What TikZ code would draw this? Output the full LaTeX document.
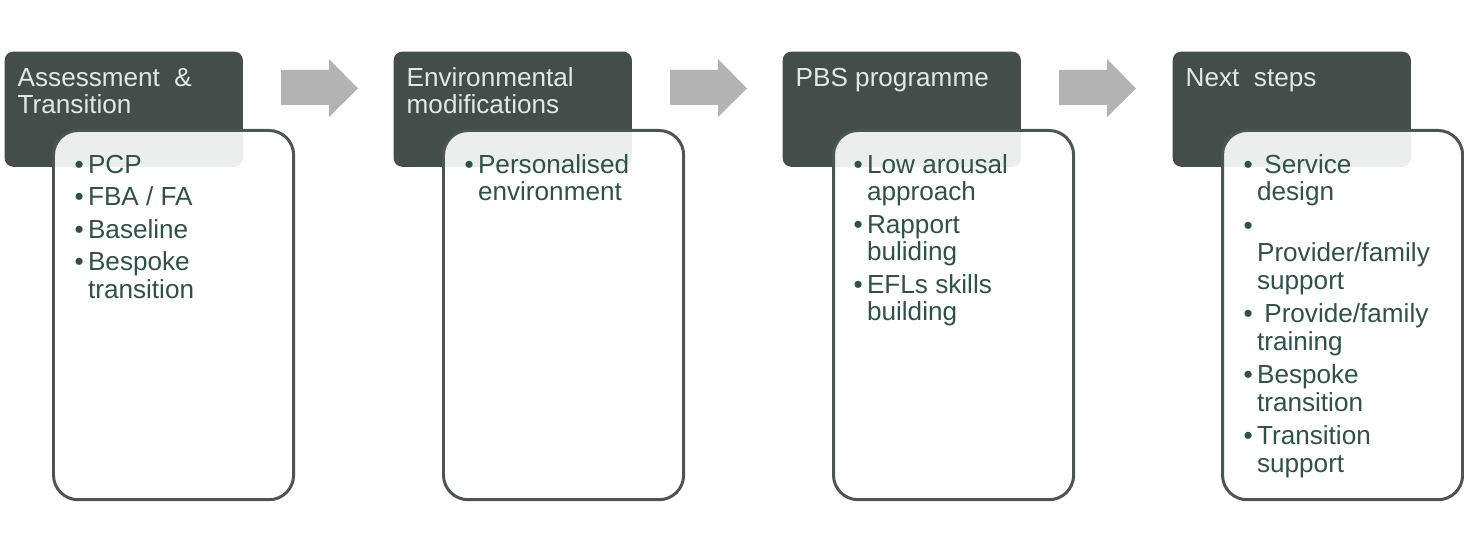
\documentclass[tikz,border=0pt]{standalone}
\usepackage{fontspec}
\setmainfont{Liberation Sans}
\usepackage{array}
\begin{document}
\definecolor{headfill}{HTML}{434E4B}
\definecolor{headtext}{HTML}{E2E9E4}
\definecolor{bodytext}{HTML}{2D5248}
\definecolor{boxline}{HTML}{4B5653}
\definecolor{arrowgray}{HTML}{B3B3B3}
% one unit = 0.01cm, y grows downwards
\begin{tikzpicture}[x=0.01cm,y=-0.01cm,
  header/.style={fill=headfill,draw=none,rounded corners=2.4pt,
    minimum width=2.38cm,minimum height=1.15cm,anchor=north west,inner sep=0pt},
  content/.style={fill=white,fill opacity=0.9,draw=boxline,line width=0.85pt,
    rounded corners=7pt,minimum width=2.40cm,minimum height=3.69cm,
    anchor=north west,inner sep=0pt},
  headlabel/.style={anchor=north west,inner sep=0pt,text=headtext,
    font=\fontsize{7.43}{7.8}\selectfont},
  bullets/.style={anchor=north west,inner sep=0pt,text=bodytext,
    font=\fontsize{7.43}{7.8}\selectfont},
  flowarrow/.style={fill=arrowgray,draw=none}]
\useasboundingbox (0,0) rectangle (1464,549);
\newcommand\gap{\\[1.45pt]}
\newcommand\widegap{\\[1.75pt]}
\newcommand\bul{•}

% stage headers
\node[header] (h1) at (4,51) {};
\node[header] (h2) at (393,51) {};
\node[header] (h3) at (782,51) {};
\node[header] (h4) at (1172,51) {};

\node[headlabel] (t1) at (17,66.4) {\begin{tabular}{@{}l@{}}Assessment\ \ \&\\Transition\end{tabular}};
\node[headlabel] (t2) at (406,66.4) {\begin{tabular}{@{}l@{}}Environmental\\modifications\end{tabular}};
\node[headlabel] (t3) at (795,66.4) {\begin{tabular}{@{}l@{}}PBS programme\end{tabular}};
\node[headlabel] (t4) at (1185,66.4) {\begin{tabular}{@{}l@{}}Next\ \ steps\end{tabular}};

% detail cards, lying over the headers
\node[content] (c1) at (52,129) {};
\node[content] (c2) at (442,129) {};
\node[content] (c3) at (832,129) {};
\node[content] (c4) at (1221,129) {};

\node[bullets] (l1) at (74,153.5) {\begin{tabular}{@{}l@{\hspace{1.2pt}}l@{}}
\bul & PCP\gap
\bul & FBA / FA\gap
\bul & Baseline\gap
\bul & Bespoke\\
 & transition\end{tabular}};
\node[bullets] (l2) at (464,153.5) {\begin{tabular}{@{}l@{\hspace{1.2pt}}l@{}}
\bul & Personalised\\
 & environment\end{tabular}};
\node[bullets] (l3) at (853,153.5) {\begin{tabular}{@{}l@{\hspace{1.2pt}}l@{}}
\bul & Low arousal\\
 & approach\gap
\bul & Rapport\\
 & buliding\gap
\bul & EFLs skills\\
 & building\end{tabular}};
\node[bullets] (l4) at (1243,153.5) {\begin{tabular}{@{}l@{\hspace{1.2pt}}l@{}}
\bul & \ Service\\
 & design\widegap
\bul & \\
 & Provider/family\\
 & support\widegap
\bul & \ Provide/family\\
 & training\widegap
\bul & Bespoke\\
 & transition\widegap
\bul & Transition\\
 & support\end{tabular}};

% block arrows between the stages
\foreach \x [count=\i] in {281,670,1059} {
  \fill[flowarrow] (\x,70) -- (\x+48,70) -- (\x+48,59) -- (\x+77,88.5)
    -- (\x+48,117) -- (\x+48,105) -- (\x,105) -- cycle;
}
\end{tikzpicture}
\end{document}
